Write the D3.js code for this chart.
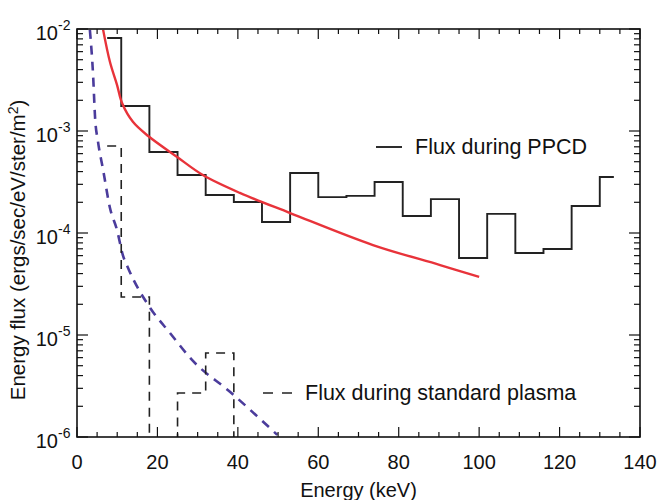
<!DOCTYPE html>
<html><head><meta charset="utf-8">
<script src="https://cdn.jsdelivr.net/npm/d3@7"></script>
<style>body{margin:0;background:#fff}svg{display:block}text{font-family:"Liberation Sans",Arial,sans-serif;fill:#111}</style>
</head><body><svg id="c" width="667" height="500"></svg>
<script>
// PPCD histogram (bin centres, keV) and flux
const ppcdEnergy = [7.5,14.5,21.5,28.5,35.5,42.5,49.5,56.5,63.5,70.5,77.5,84.5,91.5,98.5,105.5,112.5,119.5,126.5,133.5];
const ppcdFlux = [8.16e-3,1.76e-3,6.22e-4,3.70e-4,2.36e-4,2.01e-4,1.28e-4,3.88e-4,2.25e-4,2.31e-4,3.16e-4,1.47e-4,2.15e-4,5.69e-5,1.54e-4,6.37e-5,6.97e-5,1.84e-4,3.54e-4];
// Standard plasma histogram (0 = below the axis)
const stdEnergy = [7.5,14.5,21.5,28.5,35.5,42.5];
const stdFlux = [7.13e-4,2.36e-5,0,2.70e-6,6.67e-6,0];
// Fit to PPCD (red)
const fitEnergy = [6.5,8.2,9.95,11.2,13.9,17.7,24.9,31.3,40.5,53,73.6,90.3,100];
const fitFlux = [9.8e-3,4.74e-3,2.83e-3,1.88e-3,1.23e-3,8.93e-4,5.56e-4,3.70e-4,2.47e-4,1.57e-4,7.62e-5,4.85e-5,3.71e-5];
// Fit to standard plasma (purple dashed)
const stdFitEnergy = [3.2,4.0,4.5,5.2,6.5,8.2,9.95,11.4,12.7,18.2,23.1,28.6,38.1,49.8];
const stdFitFlux = [9.8e-3,3.54e-3,1.34e-3,7.98e-4,4.15e-4,1.76e-4,1.07e-4,6.08e-5,4.54e-5,1.84e-5,1.05e-5,5.69e-6,2.76e-6,1.05e-6];
const xTicks = [0,20,40,60,80,100,120,140];
const yExponents = [-2,-3,-4,-5,-6];
const legendLabels = ["Flux during PPCD","Flux during standard plasma"];

const L=77,R=640,T=29,B=437;
const svg=d3.select("#c");
const x=d3.scaleLinear().domain([0,140]).range([L,R]);
const y=d3.scaleLog().domain([1e-6,1e-2]).range([B,T]);
const yv=v=> v>0 ? y(v) : B+6;

svg.append("defs").append("clipPath").attr("id","clip").append("rect")
  .attr("x",L).attr("y",T).attr("width",R-L).attr("height",B-T);
const g=svg.append("g").attr("clip-path","url(#clip)");

const step=d3.line().x(d=>x(d[0])).y(d=>yv(d[1])).curve(d3.curveStep);
const smooth=d3.line().x(d=>x(d[0])).y(d=>y(d[1])).curve(d3.curveMonotoneX);
const smooth2=d3.line().x(d=>x(d[0])).y(d=>y(d[1])).curve(d3.curveCatmullRom.alpha(0.5));

g.append("path").datum(d3.zip(stdFitEnergy,stdFitFlux)).attr("d",smooth)
  .attr("fill","none").attr("stroke","#4b3c9c").attr("stroke-width",2.6).attr("stroke-dasharray","9,7");
g.append("path").datum(d3.zip(stdEnergy,stdFlux)).attr("d",step)
  .attr("fill","none").attr("stroke","#222").attr("stroke-width",1.6).attr("stroke-dasharray","9,7");
g.append("path").datum(d3.zip(ppcdEnergy,ppcdFlux)).attr("d",step)
  .attr("fill","none").attr("stroke","#222").attr("stroke-width",1.9);
g.append("path").datum(d3.zip(fitEnergy,fitFlux)).attr("d",smooth2)
  .attr("fill","none").attr("stroke","#e8333a").attr("stroke-width",2.4);

// frame
svg.append("rect").attr("x",L).attr("y",T).attr("width",R-L).attr("height",B-T)
  .attr("fill","none").attr("stroke","#111").attr("stroke-width",1.6);

const tk=svg.append("g").attr("stroke","#111").attr("stroke-width",1.2);
d3.range(0,141,5).forEach(v=>{
  const len = v%20===0?10:5, px=x(v);
  tk.append("line").attr("x1",px).attr("x2",px).attr("y1",B).attr("y2",B-len);
  tk.append("line").attr("x1",px).attr("x2",px).attr("y1",T).attr("y2",T+len);
});
for(let e=-6;e<=-2;e++){
  for(let m=1;m<=9;m++){
    const v=m*Math.pow(10,e); if(v>1e-2+1e-12) break;
    const py=y(v), len=m===1?11:6;
    tk.append("line").attr("x1",L).attr("x2",L+len).attr("y1",py).attr("y2",py);
    tk.append("line").attr("x1",R).attr("x2",R-len).attr("y1",py).attr("y2",py);
  }
}
const fs=20;
xTicks.forEach(v=>{
  svg.append("text").attr("x",x(v)).attr("y",B+32).attr("text-anchor","middle")
    .attr("font-size",fs).text(v);
});
yExponents.forEach(e=>{
  svg.append("text").attr("x",58).attr("y",y(Math.pow(10,e))+11).attr("text-anchor","end").attr("font-size",fs).text("10");
  svg.append("text").attr("x",58).attr("y",y(Math.pow(10,e))+1).attr("font-size",14).text(String(e));
});
svg.append("text").attr("x",(L+R)/2).attr("y",497).attr("text-anchor","middle").attr("font-size",fs).text("Energy (keV)");
const yl=svg.append("text").attr("transform","translate(25,250) rotate(-90)").attr("text-anchor","middle").attr("font-size",20.5);
yl.append("tspan").text("Energy flux (ergs/sec/eV/ster/m");
yl.append("tspan").attr("font-size",14).attr("dy",-7).text("2");
yl.append("tspan").attr("dy",7).text(")");

// legends
svg.append("line").attr("x1",376).attr("x2",402).attr("y1",147).attr("y2",147).attr("stroke","#222").attr("stroke-width",1.9);
svg.append("text").attr("x",415).attr("y",154).attr("font-size",21.5).text(legendLabels[0]);
svg.append("line").attr("x1",263).attr("x2",292).attr("y1",393).attr("y2",393).attr("stroke","#222").attr("stroke-width",1.6).attr("stroke-dasharray","10,9");
svg.append("text").attr("x",305).attr("y",400).attr("font-size",21.5).text(legendLabels[1]);
</script></body></html>
